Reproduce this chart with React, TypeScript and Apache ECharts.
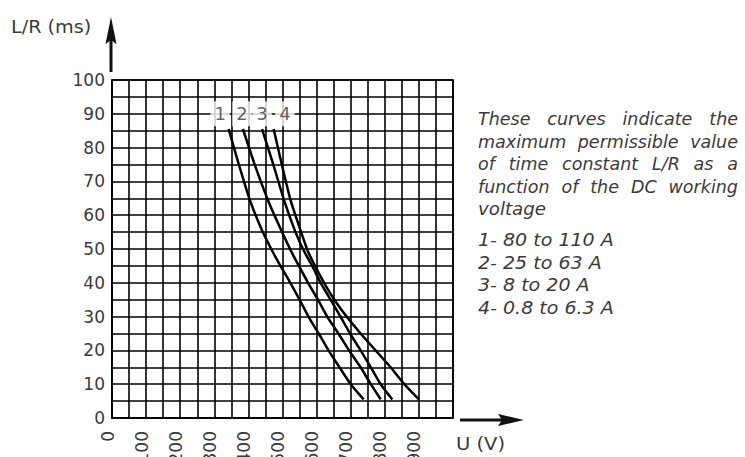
import React, { useEffect, useRef } from "react";
import * as echarts from "echarts";

// Curves: [U (V), L/R (ms)]
const curve1 = [[342, 85.5], [372, 75], [405, 64.3], [442, 55], [470, 49.4], [494, 45], [523, 40], [550, 35], [576, 30], [606, 25], [635, 20], [667, 15], [700, 10], [738, 5.5]];
const curve2 = [[384, 85.5], [420, 74.5], [458, 64.3], [492, 56.5], [525, 49.4], [548, 45], [575, 40], [604, 35], [631, 30], [664, 25], [695, 20], [729, 15], [759, 10], [788, 5.5]];
const curve3 = [[440, 85.5], [473, 75], [505, 64.3], [538, 55], [563, 49.4], [587, 45], [612, 40], [641, 35], [670, 30], [698, 25], [729, 20], [759, 15], [788, 10], [822, 5.5]];
const curve4 = [[474, 85.5], [498, 75], [524, 64.3], [553, 55.5], [574, 49.4], [598, 44.5], [622, 40], [652, 35], [688, 30], [729, 25], [773, 20], [817, 15], [857, 10], [900, 5.5]];

const curveNames = ["1", "2", "3", "4"];
const labelU = [317, 381, 440, 507];
const labelLR = [90, 90, 90, 90];

const xLabelValues = [0, 100, 200, 300, 400, 500, 600, 700, 800, 900];
const yLabelValues = [0, 10, 20, 30, 40, 50, 60, 70, 80, 90, 100];

const yName = "L/R (ms)";
const xName = "U (V)";

const descLines = [
  "These curves indicate the",
  "maximum permissible value",
  "of time constant L/R as a",
  "function of the DC working",
];
const descLastLine = "voltage";
const rangeLines = ["1- 80 to 110 A", "2- 25 to 63 A", "3- 8 to 20 A", "4- 0.8 to 6.3 A"];

const FONT = "DejaVu Sans";
const TEXT_COLOR = "#3a3a3a";

function measure(text: string, size: number, italic: boolean) {
  const c = document.createElement("canvas").getContext("2d");
  if (!c) return text.length * size * 0.6;
  c.font = `${italic ? "italic " : ""}${size}px "${FONT}"`;
  return c.measureText(text).width;
}

function txt(text: string, x: number, y: number, italic: boolean, sx: number, size = 17) {
  return {
    type: "text",
    x,
    y,
    scaleX: sx,
    silent: true,
    style: {
      text,
      fill: TEXT_COLOR,
      fontSize: size,
      fontFamily: FONT,
      fontStyle: italic ? "italic" : "normal",
      align: "left",
      textAlign: "left",
      verticalAlign: "middle",
      textVerticalAlign: "middle",
    },
  };
}

function buildGraphics() {
  const g: any[] = [];
  const left = 478;
  const W = 260;
  const PSX = 1.03;
  const paraY = [119.5, 142, 164.5, 187];
  descLines.forEach((line, i) => {
    const words = line.split(" ");
    const widths = words.map((w) => measure(w, 17, true) * PSX);
    const sum = widths.reduce((a, b) => a + b, 0);
    const gap = (W - sum) / (words.length - 1);
    let x = left;
    words.forEach((w, j) => {
      g.push(txt(w, x, paraY[i], true, PSX));
      x += widths[j] + gap;
    });
  });
  g.push(txt(descLastLine, left, 209.5, true, 1.07));
  const listY = [240.3, 262.8, 285.3, 307.8];
  rangeLines.forEach((l, i) => g.push(txt(l, left, listY[i], true, 1.12)));

  g.push(txt(yName, 11, 27, false, 1.13));
  g.push(txt(xName, 456, 443.5, false, 1.15));

  // y arrow
  g.push({ type: "line", silent: true, shape: { x1: 111, y1: 72, x2: 111, y2: 36 }, style: { stroke: "#111", lineWidth: 3 } });
  g.push({ type: "polygon", silent: true, shape: { points: [[111, 17], [116.5, 44], [111, 40], [105.5, 44]] }, style: { fill: "#111" } });
  // x arrow
  g.push({ type: "line", silent: true, shape: { x1: 460, y1: 420, x2: 505, y2: 420 }, style: { stroke: "#111", lineWidth: 3 } });
  g.push({ type: "polygon", silent: true, shape: { points: [[524, 420], [498, 414], [502, 420], [498, 426]] }, style: { fill: "#111" } });
  return g;
}

export default function App() {
  const ref = useRef<HTMLDivElement>(null);
  useEffect(() => {
    if (!ref.current) return;
    const chart = echarts.init(ref.current, null, { renderer: "svg" });
    const lineStyle = { color: "#000", width: 1.6 };
    const lineSeries = [curve1, curve2, curve3, curve4].map((d) => ({
      type: "line",
      data: d,
      smooth: 0.2,
      showSymbol: false,
      symbol: "none",
      lineStyle: { color: "#000", width: 2.5 },
      z: 3,
      silent: true,
    }));
    chart.setOption({
      animation: false,
      backgroundColor: "#fff",
      grid: {
        left: 112,
        right: 292,
        top: 80,
        bottom: 39,
        containLabel: false,
        outerBoundsMode: "none",
        show: true,
        borderColor: "#000",
        borderWidth: 1.6,
        backgroundColor: "transparent",
      },
      xAxis: {
        type: "value",
        min: 0,
        max: 1000,
        interval: 50,
        axisLine: { show: true, lineStyle },
        axisTick: { show: false },
        splitLine: { show: true, lineStyle },
        axisLabel: {
          formatter: (v: number) => (xLabelValues.includes(v) ? String(v) : ""),
          rotate: 90,
          margin: 13,
          fontSize: 17,
          fontFamily: FONT,
          color: TEXT_COLOR,
          verticalAlign: "bottom",
          lineHeight: 9,
        },
      },
      yAxis: {
        type: "value",
        min: 0,
        max: 100,
        interval: 5,
        axisLine: { show: true, lineStyle },
        axisTick: { show: false },
        splitLine: { show: true, lineStyle },
        axisLabel: {
          formatter: (v: number) => (yLabelValues.includes(v) ? String(v) : ""),
          margin: 7,
          fontSize: 17,
          fontFamily: FONT,
          color: TEXT_COLOR,
        },
      },
      series: [
        ...lineSeries,
        {
          type: "scatter",
          data: labelU.map((u, i) => ({ name: curveNames[i], value: [u, labelLR[i]] })),
          symbolSize: 1,
          itemStyle: { color: "rgba(0,0,0,0)" },
          z: 10,
          silent: true,
          label: {
            show: true,
            position: "inside",
            formatter: "{b}",
            fontSize: 18,
            fontFamily: FONT,
            color: TEXT_COLOR,
            backgroundColor: "#fff",
            padding: [4, 4, 3, 4],
          },
        },
      ],
      graphic: buildGraphics(),
    } as any);
    return () => chart.dispose();
  }, []);
  return <div ref={ref} style={{ position: "fixed", left: 0, top: 0, width: 745, height: 457 }} />;
}
